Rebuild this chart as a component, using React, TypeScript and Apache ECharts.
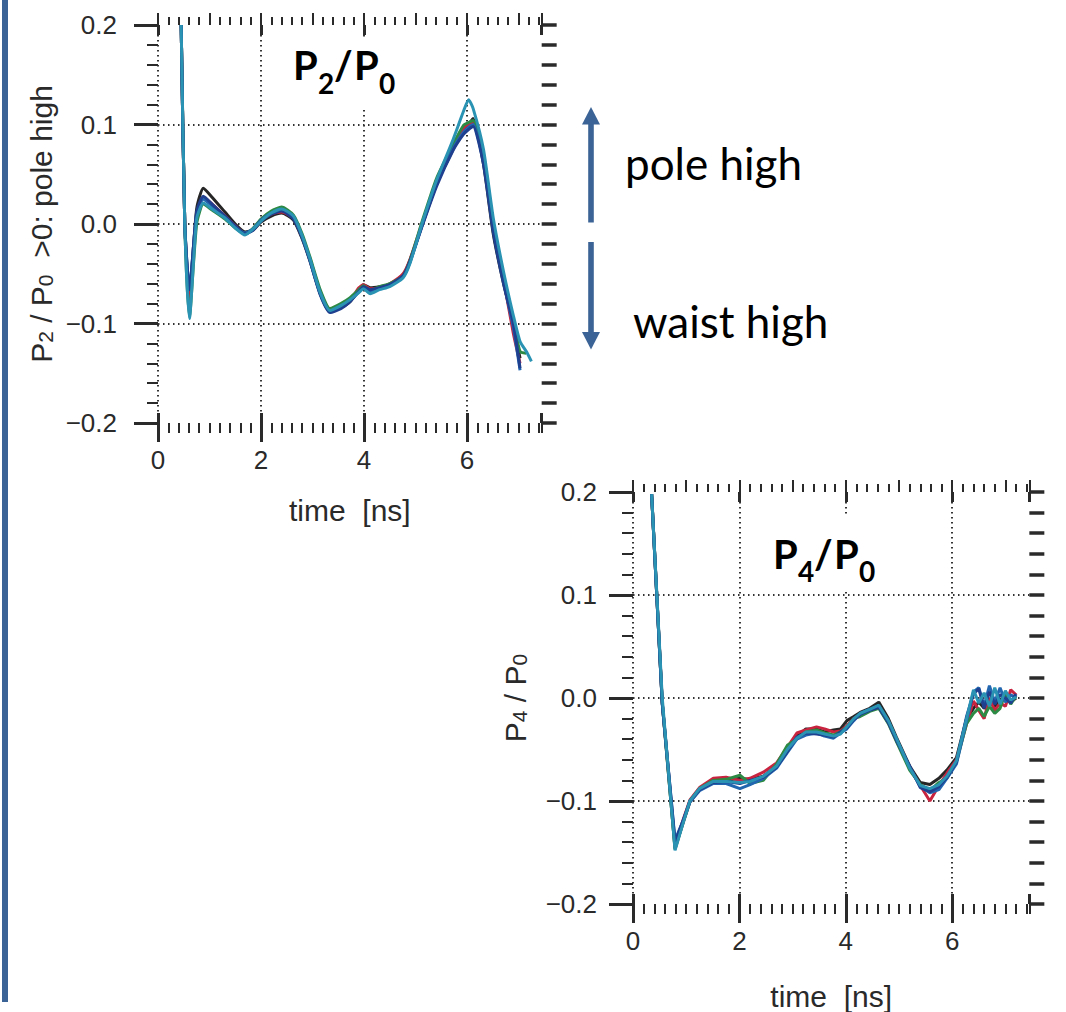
import React, { useEffect, useRef } from 'react';
import * as echarts from 'echarts';

// ---------- data ----------
const X_MAX = 7.45;
const Y_MIN = -0.2;
const Y_MAX = 0.2;

const SERIES_COLORS = ['#262626', '#c8233f', '#2d8a45', '#2266b0', '#1f3f8f', '#2a93b4'];

// P2/P0 (top panel)
const TIME_P2 = [0.45, 0.52, 0.61, 0.75, 0.88, 1.05, 1.3, 1.5, 1.69, 1.85, 2.0, 2.2, 2.4, 2.63, 2.8, 2.95, 3.15, 3.34, 3.55, 3.73, 3.9, 3.99, 4.12, 4.3, 4.5, 4.76, 4.89, 5.15, 5.41, 5.73, 5.93, 6.03, 6.12, 6.32, 6.51, 6.71, 6.9, 7.03, 7.15, 7.25];
const P2_BLACK = [0.2, 0.0, -0.07, 0.015, 0.036, 0.027, 0.012, 0.0, -0.008, -0.006, 0.002, 0.008, 0.011, 0.004, -0.015, -0.037, -0.07, -0.088, -0.084, -0.078, -0.066, -0.061, -0.064, -0.063, -0.061, -0.051, -0.037, 0.002, 0.04, 0.075, 0.094, 0.1, 0.106, 0.06, -0.01, -0.06, -0.1, -0.135, null, null];
const P2_RED = [0.2, 0.0, -0.075, 0.008, 0.027, 0.02, 0.008, -0.002, -0.01, -0.005, 0.004, 0.01, 0.012, 0.006, -0.013, -0.035, -0.068, -0.086, -0.083, -0.077, -0.064, -0.061, -0.065, -0.064, -0.06, -0.05, -0.036, 0.004, 0.042, 0.077, 0.096, 0.1, 0.102, 0.066, -0.004, -0.056, -0.11, -0.14, null, null];
const P2_GREEN = [0.2, 0.0, -0.093, 0.0, 0.02, 0.014, 0.005, -0.004, -0.01, -0.004, 0.005, 0.013, 0.017, 0.009, -0.01, -0.033, -0.066, -0.085, -0.08, -0.074, -0.066, -0.062, -0.067, -0.063, -0.06, -0.052, -0.037, 0.006, 0.046, 0.08, 0.099, 0.102, 0.104, 0.07, 0.0, -0.052, -0.098, -0.128, -0.13, null];
const P2_BLUE = [0.2, 0.0, -0.065, 0.01, 0.025, 0.018, 0.007, -0.003, -0.009, -0.005, 0.004, 0.011, 0.014, 0.007, -0.013, -0.036, -0.07, -0.088, -0.083, -0.077, -0.068, -0.064, -0.068, -0.065, -0.062, -0.053, -0.039, 0.002, 0.04, 0.076, 0.092, 0.097, 0.1, 0.062, -0.005, -0.058, -0.104, -0.147, null, null];
const P2_DARKBLUE = [0.2, 0.0, -0.066, 0.012, 0.028, 0.02, 0.008, -0.002, -0.01, -0.006, 0.003, 0.01, 0.013, 0.005, -0.014, -0.037, -0.071, -0.089, -0.085, -0.078, -0.068, -0.063, -0.066, -0.064, -0.061, -0.052, -0.038, 0.001, 0.038, 0.074, 0.09, 0.095, 0.098, 0.06, -0.008, -0.06, -0.1, -0.145, null, null];
const P2_TEAL = [0.2, 0.0, -0.095, 0.005, 0.021, 0.015, 0.006, -0.004, -0.011, -0.005, 0.003, 0.011, 0.015, 0.008, -0.012, -0.035, -0.069, -0.087, -0.082, -0.076, -0.069, -0.065, -0.07, -0.066, -0.063, -0.054, -0.04, 0.004, 0.044, 0.085, 0.113, 0.125, 0.116, 0.075, 0.006, -0.048, -0.092, -0.118, -0.128, -0.138];

// P4/P0 (bottom panel)
const TIME_P4 = [0.35, 0.55, 0.79, 0.95, 1.07, 1.25, 1.51, 1.75, 2.01, 2.2, 2.45, 2.7, 2.9, 3.08, 3.25, 3.45, 3.6, 3.77, 3.9, 4.02, 4.15, 4.27, 4.45, 4.62, 4.8, 4.95, 5.2, 5.4, 5.58, 5.75, 5.9, 6.08, 6.27, 6.4, 6.5, 6.6, 6.7, 6.8, 6.9, 7.0, 7.1, 7.2];
const P4_BLACK = [0.198, -0.005, -0.146, -0.12, -0.101, -0.089, -0.081, -0.08, -0.078, -0.079, -0.076, -0.066, -0.05, -0.037, -0.03, -0.03, -0.033, -0.031, -0.03, -0.022, -0.018, -0.014, -0.01, -0.004, -0.02, -0.038, -0.066, -0.082, -0.084, -0.078, -0.07, -0.058, -0.02, -0.01, -0.004, -0.01, -0.005, -0.008, -0.002, 0.002, -0.004, 0.0];
const P4_RED = [0.198, -0.004, -0.143, -0.117, -0.099, -0.087, -0.078, -0.077, -0.08, -0.078, -0.072, -0.063, -0.048, -0.034, -0.031, -0.028, -0.03, -0.033, -0.032, -0.027, -0.02, -0.016, -0.012, -0.009, -0.024, -0.041, -0.068, -0.085, -0.1, -0.085, -0.073, -0.06, -0.025, -0.003, -0.012, -0.02, 0.0, -0.012, -0.005, -0.008, 0.008, 0.003];
const P4_GREEN = [0.198, -0.005, -0.147, -0.119, -0.1, -0.088, -0.08, -0.079, -0.075, -0.083, -0.08, -0.064, -0.046, -0.04, -0.033, -0.031, -0.034, -0.036, -0.033, -0.028, -0.02, -0.018, -0.013, -0.01, -0.025, -0.042, -0.07, -0.084, -0.09, -0.082, -0.078, -0.062, -0.025, -0.015, -0.01, -0.018, -0.008, -0.015, -0.01, 0.005, -0.006, 0.002];
const P4_BLUE = [0.198, -0.006, -0.138, -0.118, -0.101, -0.09, -0.083, -0.083, -0.088, -0.084, -0.078, -0.068, -0.053, -0.04, -0.036, -0.034, -0.037, -0.039, -0.034, -0.03, -0.022, -0.015, -0.011, -0.008, -0.023, -0.04, -0.067, -0.086, -0.092, -0.089, -0.078, -0.064, -0.022, 0.006, 0.01, -0.008, 0.012, -0.004, 0.01, -0.004, 0.003, 0.0];
const P4_DARKBLUE = [0.198, -0.005, -0.14, -0.118, -0.1, -0.089, -0.082, -0.081, -0.083, -0.08, -0.077, -0.067, -0.052, -0.038, -0.034, -0.035, -0.036, -0.038, -0.033, -0.029, -0.021, -0.016, -0.012, -0.009, -0.024, -0.041, -0.066, -0.087, -0.091, -0.086, -0.077, -0.062, -0.018, 0.004, 0.009, -0.01, 0.006, -0.006, 0.003, 0.0, -0.005, 0.004];
const P4_TEAL = [0.198, 0.0, -0.148, -0.12, -0.1, -0.088, -0.081, -0.081, -0.082, -0.081, -0.076, -0.066, -0.05, -0.039, -0.033, -0.033, -0.035, -0.037, -0.035, -0.028, -0.02, -0.015, -0.011, -0.007, -0.022, -0.039, -0.068, -0.085, -0.088, -0.084, -0.076, -0.061, -0.02, 0.008, -0.005, 0.005, -0.008, 0.01, -0.006, 0.007, -0.002, 0.001];

const P2_SERIES = [P2_BLACK, P2_RED, P2_GREEN, P2_BLUE, P2_DARKBLUE, P2_TEAL];
const P4_SERIES = [P4_BLACK, P4_RED, P4_GREEN, P4_BLUE, P4_DARKBLUE, P4_TEAL];

// ---------- styling ----------
const FONT = "'Liberation Sans', Arial, sans-serif";
const TITLE_FONT = 'Lato, "Open Sans", sans-serif';
const INK = '#2a2a2a';
const DOT = '#333333';
const BLUE_BAR = '#3b6395';

const dotted = { color: DOT, width: 2, type: [1.5, 3.5] as number[] };

function yFmt(v: number) {
  const s = Math.abs(v).toFixed(1);
  return v < -1e-9 ? '\u2212' + s : s;
}

function buildXAxes(gridIndex: number, labelMargin: number, nameGap: number) {
  const common = {
    type: 'value', gridIndex, min: 0, max: X_MAX,
    axisLine: { show: false, onZero: false }, axisLabel: { show: false }, splitLine: { show: false },
  };
  const ts = (w: number) => ({ color: INK, width: w });
  return [
    {
      ...common, position: 'bottom', interval: 2,
      axisTick: { show: true, length: 19, lineStyle: ts(3) },
      axisLabel: { show: true, showMaxLabel: false, margin: labelMargin, fontSize: 26, fontFamily: FONT, color: INK },
      splitLine: { show: true, showMinLine: true, showMaxLine: false, lineStyle: dotted },
      name: 'time  [ns]', nameLocation: 'middle', nameGap,
      nameTextStyle: { fontSize: 30, fontFamily: FONT, color: INK },
    },
    { ...common, position: 'bottom', interval: 2, axisTick: { show: true, inside: true, length: 10, lineStyle: ts(3) } },
    { ...common, position: 'bottom', interval: 0.2, axisTick: { show: true, length: 10, lineStyle: ts(2) } },
    { ...common, position: 'top', interval: 0.2, axisTick: { show: true, length: 8, lineStyle: ts(2) } },
    { ...common, position: 'top', interval: 1, axisTick: { show: true, length: 12, lineStyle: ts(2) } },
    { ...common, position: 'top', interval: 2, axisTick: { show: true, inside: true, length: 10, lineStyle: ts(3) } },
  ];
}

const nameRich = {
  n: { fontSize: 30, lineHeight: 42, verticalAlign: 'bottom', fontFamily: FONT, color: INK },
  s: { fontSize: 21, lineHeight: 21, verticalAlign: 'bottom', fontFamily: FONT, color: INK },
};

function buildYAxes(gridIndex: number, labelMargin: number, name: string, nameGap: number) {
  const common = {
    type: 'value', gridIndex, min: Y_MIN, max: Y_MAX,
    axisLine: { show: false, onZero: false }, axisLabel: { show: false }, splitLine: { show: false },
  };
  return [
    {
      ...common, position: 'left', interval: 0.1,
      axisTick: { show: true, length: 24, lineStyle: { color: INK, width: 3 } },
      axisLabel: { show: true, margin: labelMargin, fontSize: 26, fontFamily: FONT, color: INK, formatter: yFmt },
      splitLine: { show: true, showMinLine: false, showMaxLine: false, lineStyle: dotted },
      name, nameLocation: 'middle', nameGap,
      nameTextStyle: { rich: nameRich },
    },
    { ...common, position: 'left', interval: 0.02, axisTick: { show: true, length: 11, lineStyle: { color: INK, width: 2 } } },
    { ...common, position: 'right', interval: 0.02, axisTick: { show: true, length: 15, lineStyle: { color: INK, width: 3.5 } } },
  ];
}

function buildSeries(times: number[], sets: (number | null)[][], xi: number, yi: number, smooth: number | boolean) {
  return sets.map((vals, k) => ({
    type: 'line',
    xAxisIndex: xi,
    yAxisIndex: yi,
    data: times.map((t, i) => [t, vals[i]]),
    symbol: 'none',
    showSymbol: false,
    smooth,
    connectNulls: false,
    lineStyle: { color: SERIES_COLORS[k], width: 3 },
    z: 3 + k,
  }));
}

function titlePieces(dx: number, dy: number, sub: string) {
  const big = { fontSize: 40, fontWeight: 'bold', fontFamily: TITLE_FONT, fill: '#000', align: 'left', verticalAlign: 'middle' };
  const small = { ...big, fontSize: 28 };
  return [
    { type: 'text', z: 20, style: { ...big, text: 'P', x: 293 + dx, y: 65 + dy } },
    { type: 'text', z: 20, style: { ...small, text: sub, x: 318 + dx, y: 82.5 + dy } },
    { type: 'text', z: 20, style: { ...big, text: '/', x: 334 + dx, y: 65 + dy } },
    { type: 'text', z: 20, style: { ...big, text: 'P', x: 354 + dx, y: 65 + dy } },
    { type: 'text', z: 20, style: { ...small, text: '0', x: 379 + dx, y: 82.5 + dy } },
  ];
}

function buildOption() {
  const xAxes = [...buildXAxes(0, 24, 72), ...buildXAxes(1, 24, 77)];
  const yAxes = [
    ...buildYAxes(0, 41, '{n|P}{s|2}{n| / P}{s|0}{n|  >0: pole high}', 102),
    ...buildYAxes(1, 36, '{n|P}{s|4}{n| / P}{s|0}', 103),
  ];
  const labelText = { fontSize: 44, fontFamily: TITLE_FONT, fill: '#000', align: 'left', verticalAlign: 'middle' };
  return {
    animation: false,
    backgroundColor: '#ffffff',
    grid: [
      { left: 158, top: 25, width: X_MAX * 51.5, height: 398 },
      { left: 633, top: 492, width: X_MAX * 53.2, height: 413 },
    ],
    xAxis: xAxes,
    yAxis: yAxes,
    series: [
      ...buildSeries(TIME_P2, P2_SERIES, 0, 0, 0.2),
      ...buildSeries(TIME_P4, P4_SERIES, 6, 3, false),
    ],
    graphic: [
      { type: 'rect', z: 1, shape: { x: 2, y: 0, width: 6, height: 1002 }, style: { fill: BLUE_BAR } },
      { type: 'rect', z: 10, shape: { x: 282, y: 37, width: 130, height: 70 }, style: { fill: '#ffffff' } },
      { type: 'rect', z: 10, shape: { x: 762, y: 514, width: 130, height: 78 }, style: { fill: '#ffffff' } },
      ...titlePieces(0, 0, '2'),
      ...titlePieces(480, 488.6, '4'),
      // arrows
      { type: 'rect', z: 10, shape: { x: 588.2, y: 123, width: 5.6, height: 99.5 }, style: { fill: BLUE_BAR } },
      { type: 'polygon', z: 10, shape: { points: [[591, 107], [600, 124.5], [582, 124.5]] }, style: { fill: BLUE_BAR } },
      { type: 'rect', z: 10, shape: { x: 588.2, y: 242, width: 5.6, height: 91 }, style: { fill: BLUE_BAR } },
      { type: 'polygon', z: 10, shape: { points: [[582, 332], [600, 332], [591, 349.5]] }, style: { fill: BLUE_BAR } },
      { type: 'text', z: 20, style: { ...labelText, text: 'pole high', x: 625, y: 163 } },
      { type: 'text', z: 20, style: { ...labelText, text: 'waist high', x: 633, y: 321 } },
    ],
  };
}

export default function App() {
  const ref = useRef<HTMLDivElement>(null);
  useEffect(() => {
    if (!ref.current) return;
    const chart = echarts.init(ref.current, undefined, { renderer: 'svg' });
    chart.setOption(buildOption() as any);
    return () => chart.dispose();
  }, []);
  return (
    <div
      ref={ref}
      style={{ position: 'absolute', left: 0, top: 0, width: 1066, height: 1012, background: '#fff' }}
    />
  );
}
